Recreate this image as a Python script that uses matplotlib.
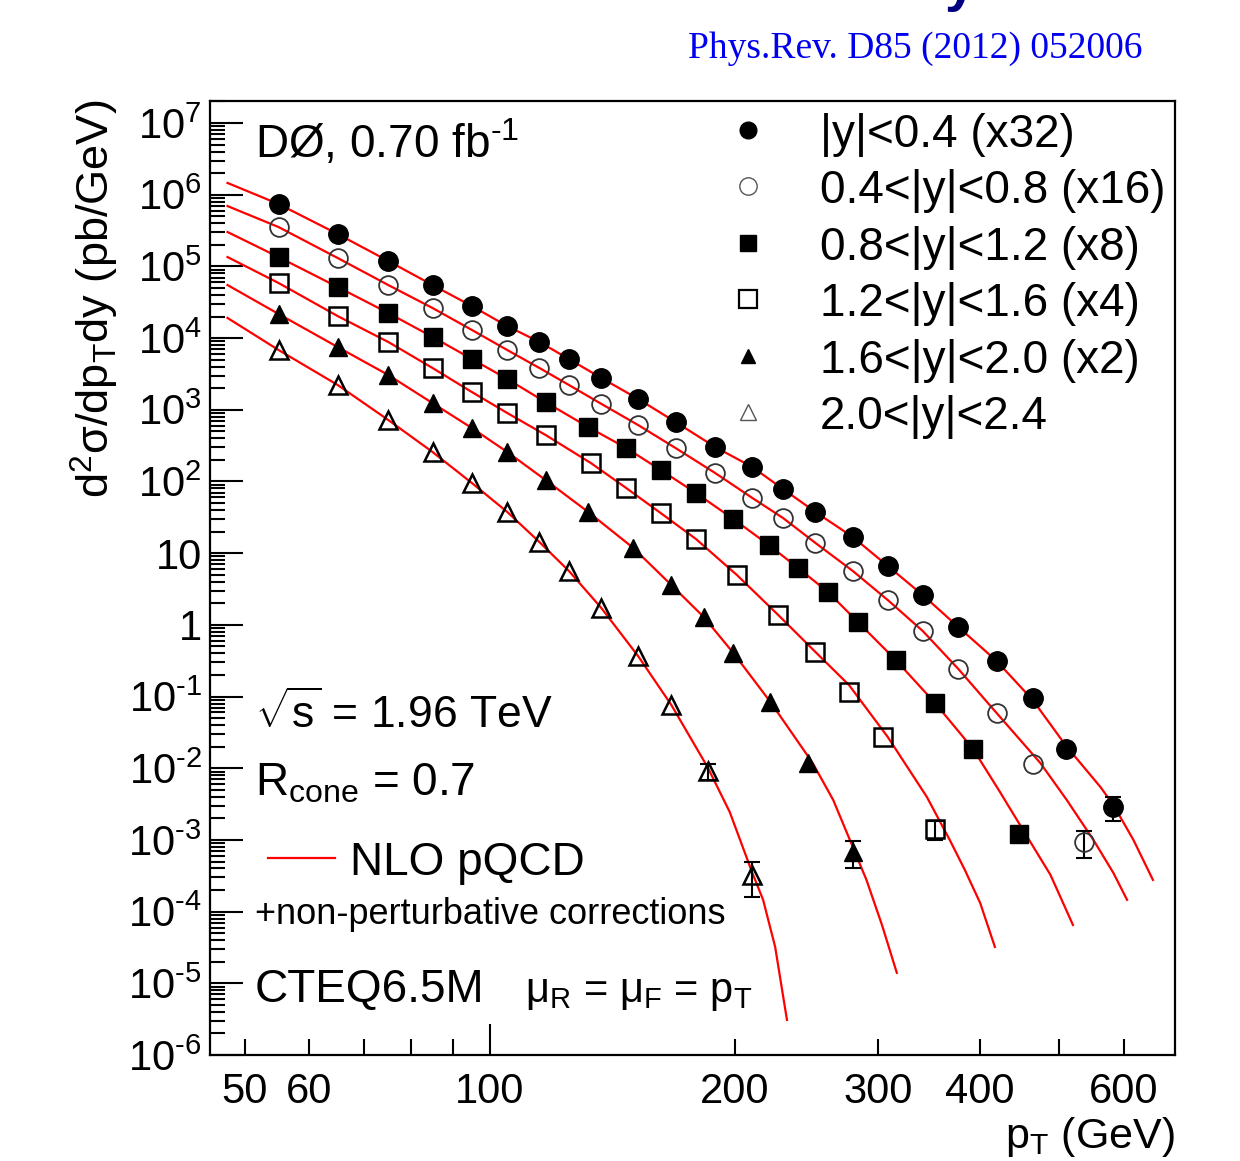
import matplotlib
matplotlib.use('Agg')
import matplotlib.pyplot as plt
from matplotlib.lines import Line2D
from matplotlib.ticker import LogLocator, NullFormatter
import numpy as np

plt.rcParams['font.family'] = ['Liberation Sans', 'DejaVu Sans']
plt.rcParams['mathtext.fontset'] = 'custom'
plt.rcParams['mathtext.rm'] = 'Liberation Sans'
plt.rcParams['mathtext.it'] = 'Liberation Sans:italic'
plt.rcParams['mathtext.bf'] = 'Liberation Sans:bold'

# %% data, cross sections already multiplied by the factor in the legend
pt_04 = [55, 65, 75, 85, 95, 105, 115, 125, 137, 152, 169, 189, 210, 229, 251, 279, 308, 340, 376, 419, 464, 510, 583]
xs_04 = [7.42e5, 2.83e5, 1.19e5, 5.50e4, 2.80e4, 1.47e4, 8.83e3, 5.11e3, 2.78e3, 1.42e3, 676, 303, 159, 78.5,
         37.6, 16.8, 6.63, 2.61, 0.935, 0.314, 0.0955, 0.0186, 2.88e-3]
err_04 = [0, 0, 0, 0, 0, 0, 0, 0, 0, 0, 0, 0, 0, 0, 0, 0, 0, 0, 0, 0, 0, 0, 0.37]
th_pt_04 = [47.6, 55, 65, 75, 85, 95, 105, 115, 125, 137, 152, 169, 189, 210, 229, 251, 279, 308, 340, 376, 419,
            464, 510, 562, 583, 617, 652]
th_xs_04 = [1.46e6, 7.42e5, 2.83e5, 1.19e5, 5.50e4, 2.80e4, 1.47e4, 8.83e3, 5.11e3, 2.78e3, 1.42e3, 676, 303, 159,
            78.5, 37.6, 16.8, 6.63, 2.61, 0.935, 0.314, 0.0897, 0.0205, 5.48e-3, 3.08e-3, 1.0e-3, 2.77e-4]

pt_08 = [55, 65, 75, 85, 95, 105, 115, 125, 137, 152, 169, 189, 210, 229, 251, 279, 308, 340, 376, 419, 464, 537]
xs_08 = [3.54e5, 1.31e5, 5.50e4, 2.63e4, 1.30e4, 6.82e3, 3.83e3, 2.22e3, 1.21e3, 614, 293, 131.5, 58.9, 31.0,
         13.9, 5.65, 2.22, 0.822, 0.243, 0.0590, 0.0115, 9.38e-4]
err_08 = [0, 0, 0, 0, 0, 0, 0, 0, 0, 0, 0, 0, 0, 0, 0, 0, 0, 0, 0, 0, 0, 0.4]
th_pt_08 = [47.6, 55, 65, 75, 85, 95, 105, 115, 125, 137, 152, 169, 189, 210, 229, 251, 279, 308, 340, 376, 419,
            474, 511, 551, 583, 606]
th_xs_08 = [6.95e5, 3.54e5, 1.31e5, 5.50e4, 2.63e4, 1.30e4, 6.82e3, 3.83e3, 2.22e3, 1.21e3, 614, 293, 131.5, 58.9,
            31.0, 13.9, 5.65, 2.22, 0.822, 0.243, 0.0590, 0.0119, 3.61e-3, 1.0e-3, 3.47e-4, 1.46e-4]

pt_12 = [55, 65, 75, 85, 95, 105, 117, 132, 147, 162, 179, 199, 220, 239, 260, 283, 315, 352, 392, 447]
xs_12 = [1.35e5, 5.16e4, 2.24e4, 1.04e4, 5.11e3, 2.69e3, 1.28e3, 575, 293, 145, 69.2, 30.0, 13.0, 6.22, 2.88,
         1.10, 0.324, 0.0815, 0.0186, 1.21e-3]
err_12 = [0, 0, 0, 0, 0, 0, 0, 0, 0, 0, 0, 0, 0, 0, 0, 0, 0, 0, 0, 0.15]
th_pt_12 = [47.6, 55, 65, 75, 85, 95, 105, 117, 132, 147, 162, 179, 199, 220, 239, 260, 283, 315, 352, 392, 423,
            450, 488, 520]
th_xs_12 = [3.02e5, 1.35e5, 5.16e4, 2.24e4, 1.04e4, 5.11e3, 2.69e3, 1.28e3, 575, 293, 145, 69.2, 30.0, 13.0, 6.22,
            2.88, 1.10, 0.324, 0.0815, 0.0186, 4.67e-3, 1.47e-3, 3.25e-4, 6.52e-5]

pt_16 = [55, 65, 75, 85, 95, 105, 117, 133, 147, 162, 179, 201, 226, 251, 276, 304, 352]
xs_16 = [5.87e4, 2.03e4, 8.83e3, 3.83e3, 1.77e3, 902, 446, 181, 81.1, 36.4, 15.8, 4.97, 1.37, 0.419, 0.116,
         0.0273, 1.42e-3]
err_16 = [0, 0, 0, 0, 0, 0, 0, 0, 0, 0, 0, 0, 0, 0, 0, 0, 0.3]
th_pt_16 = [47.6, 55, 65, 75, 85, 95, 105, 117, 133, 147, 162, 179, 201, 226, 251, 276, 308, 344, 367, 383, 400,
            417]
th_xs_16 = [1.35e5, 5.87e4, 2.03e4, 8.83e3, 3.83e3, 1.77e3, 902, 446, 181, 81.1, 36.4, 15.8, 4.97, 1.37, 0.419,
            0.145, 0.0273, 3.98e-3, 1.0e-3, 3.82e-4, 1.32e-4, 3.22e-5]

pt_20 = [55, 65, 75, 85, 95, 105, 117, 132, 150, 167, 183, 199, 221, 246, 279]
xs_20 = [2.17e4, 7.51e3, 3.06e3, 1.24e3, 557, 258, 105, 37.6, 11.8, 3.60, 1.29, 0.406, 0.0841, 0.0119, 6.81e-4]
err_20 = [0, 0, 0, 0, 0, 0, 0, 0, 0, 0, 0, 0, 0, 0, 0.4]
th_pt_20 = [47.6, 55, 65, 75, 85, 95, 105, 117, 132, 150, 167, 183, 199, 221, 249, 264, 279, 290, 303, 316]
th_xs_20 = [5.5e4, 2.17e4, 7.51e3, 3.06e3, 1.24e3, 557, 258, 105, 37.6, 11.8, 3.60, 1.29, 0.406, 0.0841, 0.0119,
            3.6e-3, 7.98e-4, 2.77e-4, 6.52e-5, 1.40e-5]

pt_24 = [55, 65, 75, 85, 95, 105, 115, 125, 137, 152, 167, 185, 210]
xs_24 = [6.82e3, 2.22e3, 721, 258, 95.3, 37.6, 14.3, 5.65, 1.72, 0.368, 0.0764, 9.17e-3, 3.25e-4]
err_24 = [0, 0, 0, 0, 0, 0, 0, 0, 0, 0, 0, 0.25, 0.5]
th_pt_24 = [47.6, 55, 65, 75, 85, 95, 105, 115, 125, 137, 152, 167, 185, 197, 210, 216.5, 224, 231.6]
th_xs_24 = [1.91e4, 6.82e3, 2.22e3, 721, 258, 95.3, 37.6, 14.3, 5.65, 1.72, 0.368, 0.0764, 0.0104, 2.45e-3,
            3.47e-4, 1.46e-4, 3.22e-5, 3.09e-6]

labels = ['|y|<0.4 (x32)', '0.4<|y|<0.8 (x16)', '0.8<|y|<1.2 (x8)',
          '1.2<|y|<1.6 (x4)', '1.6<|y|<2.0 (x2)', '2.0<|y|<2.4']

x_major = [100]
x_major_labels = ['100']
x_minor = [50, 60, 70, 80, 90, 200, 300, 400, 500, 600]
x_minor_labels = ['50', '60', '', '', '', '200', '300', '400', '', '600']
y_major = [1e-6, 1e-5, 1e-4, 1e-3, 1e-2, 1e-1, 1, 10, 1e2, 1e3, 1e4, 1e5, 1e6, 1e7]
y_labels = ['10$^{\\text{-6}}$', '10$^{\\text{-5}}$', '10$^{\\text{-4}}$', '10$^{\\text{-3}}$',
            '10$^{\\text{-2}}$', '10$^{\\text{-1}}$', '1', '10',
            '10$^{2}$', '10$^{3}$', '10$^{4}$', '10$^{5}$', '10$^{6}$', '10$^{7}$']

series = [(pt_04, xs_04, err_04, th_pt_04, th_xs_04),
          (pt_08, xs_08, err_08, th_pt_08, th_xs_08),
          (pt_12, xs_12, err_12, th_pt_12, th_xs_12),
          (pt_16, xs_16, err_16, th_pt_16, th_xs_16),
          (pt_20, xs_20, err_20, th_pt_20, th_xs_20),
          (pt_24, xs_24, err_24, th_pt_24, th_xs_24)]

# marker style for plot and legend
styles = [dict(marker='o', ms=14, mfc='black', mec='black', mew=1.0),
          dict(marker='o', ms=13.5, mfc='none', mec='#333333', mew=1.3),
          dict(marker='s', ms=12.5, mfc='black', mec='black', mew=1.0),
          dict(marker='s', ms=12.5, mfc='none', mec='black', mew=1.8),
          dict(marker='^', ms=13, mfc='black', mec='black', mew=1.0),
          dict(marker='^', ms=13, mfc='none', mec='black', mew=1.8)]
leg_styles = [dict(marker='o', ms=12, mfc='black', mec='black', mew=1.0),
              dict(marker='o', ms=12.5, mfc='none', mec='#555555', mew=1.0),
              dict(marker='s', ms=11, mfc='black', mec='black', mew=1.0),
              dict(marker='s', ms=13, mfc='none', mec='black', mew=1.6),
              dict(marker='^', ms=10, mfc='black', mec='black', mew=1.0),
              dict(marker='^', ms=11, mfc='none', mec='#555555', mew=1.0)]

# %%
fig = plt.figure(figsize=(12.4, 11.61), dpi=100)
ax = fig.add_axes([210 / 1240, 1 - 1055 / 1161, 965 / 1240, 954 / 1161])

for (pt, xs, err, th_pt, th_xs), st in zip(series, styles):
    ax.plot(th_pt, th_xs, color='red', lw=1.6, zorder=2)
    pt = np.array(pt)
    xs = np.array(xs)
    err = np.array(err)
    m = err > 0
    if m.any():
        ax.errorbar(pt[m], xs[m], yerr=err[m] * xs[m], fmt='none', ecolor='black',
                    elinewidth=1.5, capsize=6, capthick=1.5, zorder=3)
    ax.plot(pt, xs, ls='none', zorder=4, **st)

ax.set_xscale('log')
ax.set_yscale('log')
ax.set_xlim(45.3, 694)
ax.set_ylim(1e-6, 2.03e7)

ax.set_xticks(x_major, labels=x_major_labels)
ax.set_xticks(x_minor, labels=x_minor_labels, minor=True)
ax.set_yticks(y_major, labels=y_labels)
ax.yaxis.set_minor_locator(LogLocator(base=10, subs=np.arange(2, 10), numticks=30))
ax.yaxis.set_minor_formatter(NullFormatter())
ax.tick_params(which='both', direction='in', top=False, right=False, width=1.5, color='black')
ax.tick_params(axis='y', which='major', length=24, labelsize=30, pad=6)
ax.tick_params(axis='y', which='minor', length=11)
ax.tick_params(axis='x', which='major', length=22, labelsize=30, pad=12)
ax.tick_params(axis='x', which='minor', length=11.5, labelsize=30, pad=12)
for s in ax.spines.values():
    s.set_linewidth(1.6)

# legend drawn by hand, ROOT style
for i, (lab, st) in enumerate(zip(labels, leg_styles)):
    yc = 0.9696 - i * 0.0591
    ax.add_line(Line2D([0.5575], [yc], transform=ax.transAxes, ls='none', **st))
    ax.text(0.6321, yc - 0.0178, lab, transform=ax.transAxes, fontsize=33, va='baseline', ha='left')

ax.text(0.0466, 0.9403, 'DØ, 0.70 fb$^{\\text{-1}}$', transform=ax.transAxes, fontsize=33, va='baseline')
ax.text(0.0466, 0.3428, '$\\sqrt{\\mathrm{s}}$ = 1.96 TeV', transform=ax.transAxes, fontsize=32, va='baseline')
ax.text(0.0466, 0.2725, 'R$_{\\mathrm{cone}}$ = 0.7', transform=ax.transAxes, fontsize=33, va='baseline')
ax.add_line(Line2D([0.0601, 0.1295], [0.2065, 0.2065], transform=ax.transAxes, color='red', lw=1.6))
ax.text(0.1451, 0.1887, 'NLO pQCD', transform=ax.transAxes, fontsize=33, va='baseline')
ax.text(0.0466, 0.1373, '+non-perturbative corrections', transform=ax.transAxes, fontsize=26, va='baseline')
ax.text(0.0466, 0.0556, 'CTEQ6.5M', transform=ax.transAxes, fontsize=33, va='baseline')
ax.text(0.3264, 0.0556, 'μ$_{\\mathrm{R}}$ = μ$_{\\mathrm{F}}$ = p$_{\\mathrm{T}}$', transform=ax.transAxes,
        fontsize=30, va='baseline')

fig.text(95 / 1240, 1 - 100 / 1161, 'd$^{\\mathrm{2}}$σ/dp$_{\\mathrm{T}}$dy (pb/GeV)', rotation=90,
         ha='center', va='top', fontsize=32.5)
fig.text(1175 / 1240, 1 - 1148 / 1161, 'p$_{\\mathrm{T}}$ (GeV)', ha='right', va='baseline', fontsize=31)

fig.text(688 / 1240, 1 - 58 / 1161, 'Phys.Rev. D85 (2012) 052006', color='#0000ee',
         family='Liberation Serif', fontsize=27, ha='left', va='baseline')
# bit of the page title cut off at the top
fig.text(945 / 1240, 1.0, 'y', color='#000080', fontweight='bold', fontsize=40, ha='left', va='baseline')

fig.savefig('out.png', dpi=100)
